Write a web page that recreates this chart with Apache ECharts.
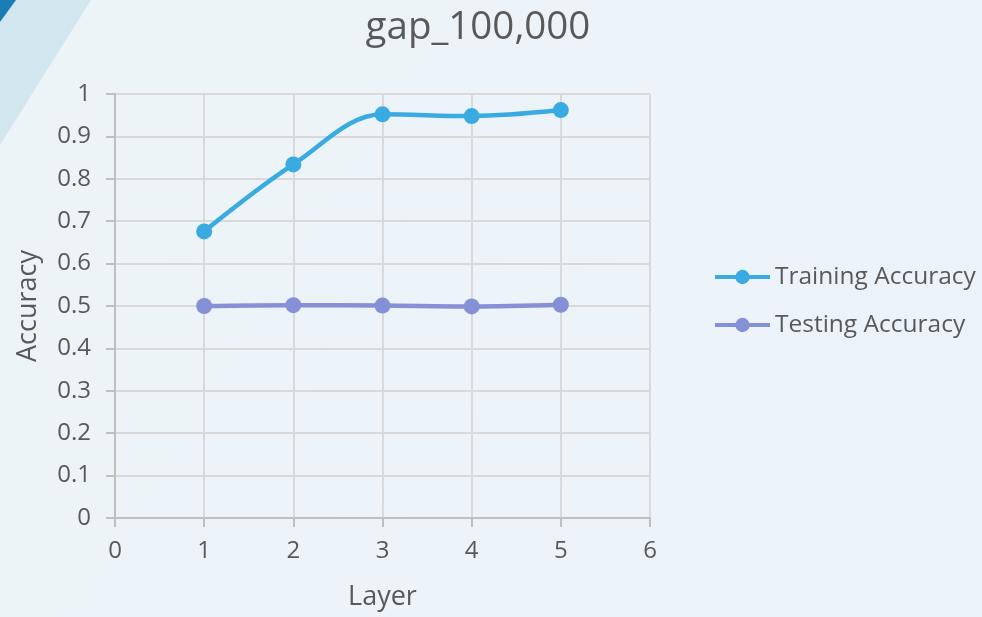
<!DOCTYPE html>
<html>
<head>
<meta charset="utf-8">
<script src="https://cdn.jsdelivr.net/npm/echarts@6/dist/echarts.min.js"></script>
<style>
  html, body { margin: 0; padding: 0; }
  #chart { width: 982px; height: 617px; }
</style>
</head>
<body>
<div id="chart"></div>
<script>
// Accuracy per layer count
const layers = [1, 2, 3, 4, 5];
const trainingAccuracy = [0.676, 0.834, 0.952, 0.948, 0.962];
const testingAccuracy = [0.500, 0.502, 0.501, 0.499, 0.503];
const seriesNames = ['Training Accuracy', 'Testing Accuracy'];
const chartTitle = 'gap_100,000';

const FONT = '"Open Sans", "Noto Sans", sans-serif';
const TEXT = '#595959';

const toPoints = (vals) => layers.map((x, i) => [x, vals[i]]);

const chart = echarts.init(document.getElementById('chart'), null, { renderer: 'canvas' });

chart.setOption({
  backgroundColor: {
    type: 'linear', x: 0, y: 0, x2: 1, y2: 1,
    colorStops: [
      { offset: 0, color: '#edf4f7' },
      { offset: 1, color: '#ebf3fb' }
    ]
  },
  animation: false,
  textStyle: { fontFamily: FONT },
  graphic: [
    {
      type: 'polygon', silent: true, z: -1,
      shape: { points: [[0, 0], [91, 0], [0, 145]] },
      style: { fill: '#d2e6ef' }
    },
    {
      type: 'polygon', silent: true, z: -1,
      shape: { points: [[0, 0], [16, 0], [0, 22]] },
      style: { fill: '#1c7cb5' }
    }
  ],
  title: {
    text: chartTitle,
    left: 478,
    top: 9,
    padding: 0,
    textAlign: 'center',
    textStyle: { fontFamily: FONT, fontSize: 38.5, fontWeight: 'normal', color: TEXT }
  },
  legend: {
    orient: 'vertical',
    left: 708,
    top: 259,
    itemWidth: 55,
    itemHeight: 18,
    itemGap: 22,
    data: seriesNames,
    lineStyle: { width: 4 },
    textStyle: { fontFamily: FONT, fontSize: 24.5, color: TEXT, lineHeight: 26 }
  },
  grid: { left: 115, right: 332, top: 94, bottom: 99, containLabel: false },
  xAxis: {
    type: 'value',
    min: 0, max: 6, interval: 1,
    name: 'Layer',
    nameLocation: 'middle',
    nameGap: 66,
    nameTextStyle: { fontFamily: FONT, fontSize: 27, color: TEXT },
    axisLine: { show: true, onZero: false, lineStyle: { color: '#bfbfbf', width: 2 } },
    axisTick: { show: true, length: 9, lineStyle: { color: '#bfbfbf', width: 2 } },
    axisLabel: { margin: 21, fontFamily: FONT, fontSize: 24, color: TEXT },
    splitLine: { show: true, lineStyle: { color: '#d9d9d9', width: 2 } }
  },
  yAxis: {
    type: 'value',
    min: 0, max: 1, interval: 0.1,
    name: 'Accuracy',
    nameLocation: 'middle',
    nameGap: 73,
    nameTextStyle: { fontFamily: FONT, fontSize: 27, color: TEXT },
    axisLine: { show: true, lineStyle: { color: '#bfbfbf', width: 2 } },
    axisTick: { show: true, length: 9, lineStyle: { color: '#bfbfbf', width: 2 } },
    axisLabel: {
      margin: 24, fontFamily: FONT, fontSize: 24, color: TEXT,
      formatter: (v) => String(Math.round(v * 10) / 10)
    },
    splitLine: { show: true, lineStyle: { color: '#d9d9d9', width: 2 } }
  },
  series: [
    {
      name: seriesNames[0],
      type: 'line',
      data: toPoints(trainingAccuracy),
      smooth: 0.35,
      symbol: 'circle',
      symbolSize: 16,
      color: '#3aabe0',
      lineStyle: { width: 4.5, color: '#3aabe0' },
      itemStyle: { color: '#3aabe0' }
    },
    {
      name: seriesNames[1],
      type: 'line',
      data: toPoints(testingAccuracy),
      smooth: 0.35,
      symbol: 'circle',
      symbolSize: 16,
      color: '#8690d6',
      lineStyle: { width: 4.5, color: '#8690d6' },
      itemStyle: { color: '#8690d6' }
    }
  ]
});
</script>
</body>
</html>
